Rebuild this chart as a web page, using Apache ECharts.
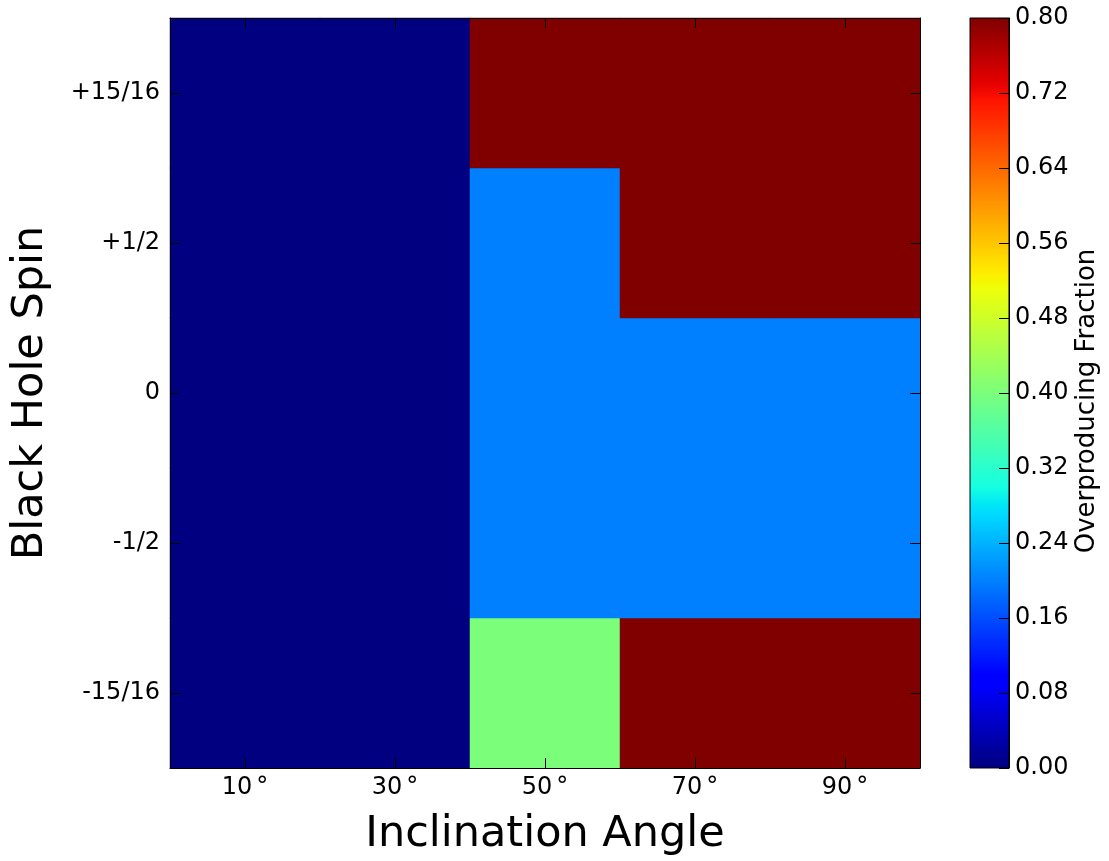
<!DOCTYPE html>
<html>
<head>
<meta charset="utf-8">
<script src="https://cdn.jsdelivr.net/npm/echarts@6/dist/echarts.min.js"></script>
<style>
  html, body { margin: 0; padding: 0; background: #fff; }
  #chart { width: 1109px; height: 861px; }
</style>
</head>
<body>
<div id="chart"></div>
<script>
// Inclination angles (columns) and black hole spins (rows, bottom to top)
const inclinations = ['10°', '30°', '50°', '70°', '90°'];
const spins = ['-15/16', '-1/2', '0', '+1/2', '+15/16'];

// Overproducing fraction for each spin row, one value per inclination
const fracSpinM15_16 = [0.0, 0.0, 0.4, 0.8, 0.8];
const fracSpinM1_2   = [0.0, 0.0, 0.2, 0.2, 0.2];
const fracSpin0      = [0.0, 0.0, 0.2, 0.2, 0.2];
const fracSpinP1_2   = [0.0, 0.0, 0.2, 0.8, 0.8];
const fracSpinP15_16 = [0.0, 0.0, 0.8, 0.8, 0.8];

// Colour bar range and tick step
const cbarMin = 0.0;
const cbarMax = 0.8;
const cbarStep = 0.08;

const rows = [fracSpinM15_16, fracSpinM1_2, fracSpin0, fracSpinP1_2, fracSpinP15_16];
const cells = [];
rows.forEach((row, yi) => row.forEach((v, xi) => cells.push([xi, yi, v])));

// "jet" colormap, sampled evenly
function seg(pts, t) {
  for (let i = 1; i < pts.length; i++) {
    if (t <= pts[i][0]) {
      const [x0, y0] = pts[i - 1], [x1, y1] = pts[i];
      return y0 + (y1 - y0) * (t - x0) / (x1 - x0);
    }
  }
  return pts[pts.length - 1][1];
}
const R = [[0, 0], [0.35, 0], [0.66, 1], [0.89, 1], [1, 0.5]];
const G = [[0, 0], [0.125, 0], [0.375, 1], [0.64, 1], [0.91, 0], [1, 0]];
const B = [[0, 0.5], [0.11, 1], [0.34, 1], [0.65, 0], [1, 0]];
const N = 128;
const jet = [];
for (let i = 0; i <= N; i++) {
  const t = i / N;
  const c = [R, G, B].map(p => Math.round(seg(p, t) * 255));
  jet.push('rgb(' + c.join(',') + ')');
}
// Vertical gradient for the colour bar (bottom = min, top = max)
const cbarGradient = new echarts.graphic.LinearGradient(0, 1, 0, 0,
  jet.map((c, i) => ({ offset: i / N, color: c })));

const FONT = 'DejaVu Sans';
const frame = { show: true, onZero: false, lineStyle: { color: '#000', width: 1 } };
const tickIn = { show: true, inside: true, length: 10, alignWithLabel: true, interval: 0, lineStyle: { color: '#000', width: 1 } };

const chart = echarts.init(document.getElementById('chart'), null, { renderer: 'canvas' });
chart.setOption({
  animation: false,
  backgroundColor: '#fff',
  grid: [
    { left: 170, top: 18, width: 750, height: 750, containLabel: false },
    { left: 970, top: 18, width: 39, height: 750, containLabel: false,
      show: true, backgroundColor: cbarGradient, borderColor: '#000', borderWidth: 1 }
  ],
  xAxis: [
    {
      type: 'category', gridIndex: 0, data: inclinations, position: 'bottom', z: 10,
      axisLine: frame, axisTick: tickIn, splitLine: { show: false },
      axisLabel: {
        margin: 8, fontFamily: FONT, fontSize: 24, color: '#000',
        formatter: v => v.replace('°', '{d|°}'),
        rich: { d: { fontFamily: FONT, fontSize: 24, color: '#000', padding: [0, 0, 0, 4] } }
      },
      name: 'Inclination Angle', nameLocation: 'middle', nameGap: 45,
      nameTextStyle: { fontFamily: FONT, fontSize: 43, color: '#000' }
    },
    {
      type: 'category', gridIndex: 0, data: inclinations, position: 'top', z: 10,
      axisLine: frame, axisTick: tickIn, axisLabel: { show: false }, splitLine: { show: false }
    },
    {
      type: 'category', gridIndex: 1, data: [''], show: false
    }
  ],
  yAxis: [
    {
      type: 'category', gridIndex: 0, data: spins, position: 'left', z: 10,
      axisLine: frame, axisTick: tickIn, splitLine: { show: false },
      axisLabel: { margin: 10, fontFamily: FONT, fontSize: 24, color: '#000' },
      name: 'Black Hole Spin', nameLocation: 'middle', nameGap: 118,
      nameTextStyle: { fontFamily: FONT, fontSize: 43, color: '#000' }
    },
    {
      type: 'category', gridIndex: 0, data: spins, position: 'right', z: 10,
      axisLine: frame, axisTick: tickIn, axisLabel: { show: false }, splitLine: { show: false }
    },
    {
      type: 'value', gridIndex: 1, position: 'right', z: 10,
      min: cbarMin, max: cbarMax, interval: cbarStep,
      axisLine: frame,
      axisTick: { show: true, inside: true, length: 10, lineStyle: { color: '#000', width: 1 } },
      splitLine: { show: false },
      axisLabel: { margin: 6, fontFamily: FONT, fontSize: 24, color: '#000', formatter: v => v.toFixed(2) },
      name: 'Overproducing Fraction', nameLocation: 'middle', nameGap: 65, nameRotate: 90,
      nameTextStyle: { fontFamily: FONT, fontSize: 26, color: '#000', padding: [0, 16, 0, 0] }
    }
  ],
  visualMap: {
    type: 'continuous', show: false, seriesIndex: 0, min: cbarMin, max: cbarMax,
    inRange: { color: jet }
  },
  series: [{
    type: 'heatmap', xAxisIndex: 0, yAxisIndex: 0, data: cells,
    itemStyle: { borderWidth: 0 }, emphasis: { disabled: true }, label: { show: false }
  }]
});
</script>
</body>
</html>
